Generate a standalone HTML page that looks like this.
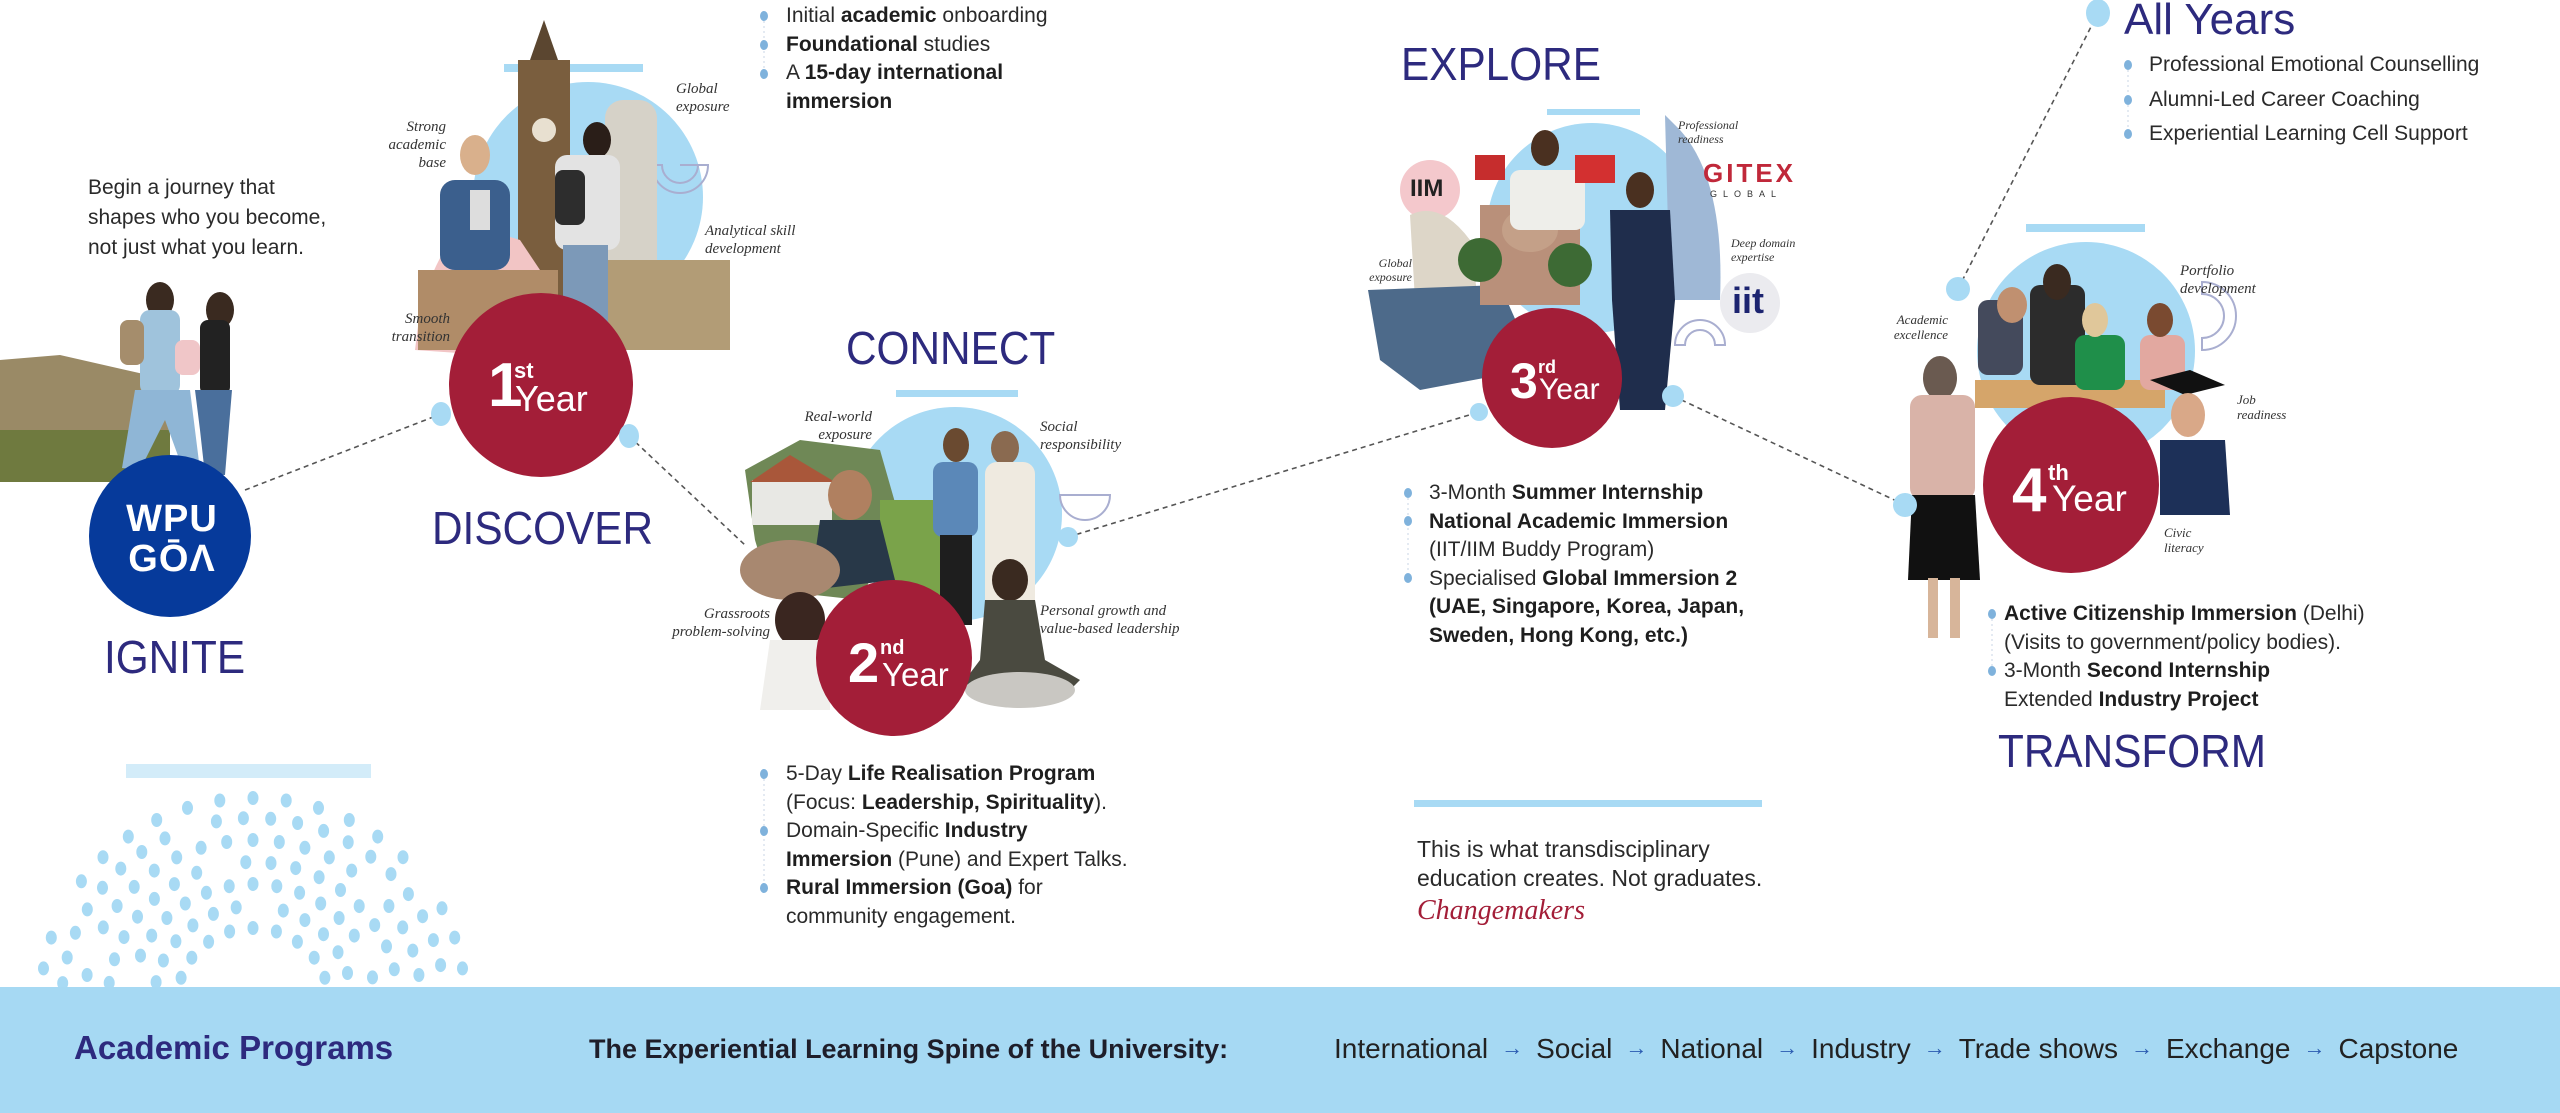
<!DOCTYPE html>
<html><head><meta charset="utf-8">
<style>
*{margin:0;padding:0;box-sizing:border-box}
body{width:2560px;height:1113px;position:relative;overflow:hidden;background:#fff;font-family:"Liberation Sans",sans-serif;color:#222}
.a{position:absolute}
.h{position:absolute;color:#2d2a7e;font-size:46px;letter-spacing:0px;white-space:nowrap;line-height:1;transform:scaleX(0.92);transform-origin:left top}
.t{position:absolute;font-size:21px;line-height:28.5px;color:#2a2a2a;white-space:nowrap}
.t b{font-weight:700;color:#1e1e1e}
.lab{position:absolute;font-family:"Liberation Serif",serif;font-style:italic;font-size:15px;line-height:18px;color:#333;white-space:nowrap}
.r{text-align:right}
.dot{position:absolute;width:8px;height:10px;border-radius:50%;background:#7fb2dc}
.yr{position:absolute;color:#fff;font-family:"Liberation Sans",sans-serif;white-space:nowrap}
.ar{color:#2a5ab0;font-size:22px;display:inline-block;vertical-align:middle;position:relative;top:-3px;margin:0 13px}
</style></head><body>

<svg class="a" style="left:0;top:0" width="2560" height="1113">
 <circle cx="588" cy="197" r="115" fill="#a8daf4"/>
 <circle cx="955" cy="514" r="107" fill="#a8daf4"/>
 <circle cx="1592" cy="228" r="105" fill="#a8daf4"/>
 <circle cx="2086" cy="351" r="109" fill="#a8daf4"/>
 <rect x="504" y="64" width="139" height="8" fill="#a8daf4"/>
 <rect x="896" y="390" width="122" height="7" fill="#a8daf4"/>
 <rect x="1547" y="109" width="93" height="6" fill="#a8daf4"/>
 <rect x="2026" y="224" width="119" height="8" fill="#a8daf4"/>
 <rect x="126" y="764" width="245" height="14" fill="#d3ecf9"/>
 <rect x="1414" y="800" width="348" height="7" fill="#a8daf4"/>
 <g stroke="#555" stroke-width="1.6" stroke-dasharray="5 4" fill="none">
  <line x1="245" y1="490" x2="441" y2="414"/>
  <line x1="629" y1="436" x2="745" y2="545"/>
  <line x1="1068" y1="537" x2="1479" y2="412"/>
  <line x1="1673" y1="396" x2="1905" y2="505"/>
  <line x1="1958" y1="289" x2="2098" y2="13"/>
 </g>
 <g stroke="#a9aed0" stroke-width="2" fill="none">
  <path d="M680 165 h28 a28 28 0 0 1 -56 0 h10 a18 18 0 0 0 36 0"/>
  <path d="M1060 495 h50 a25 25 0 0 1 -50 0 z"/>
  <path d="M1675 345 a25 25 0 0 1 50 0 h-10 a15 15 0 0 0 -30 0 z"/>
  <path d="M2202 282 a33 33 0 0 1 0 68 v-12 a22 22 0 0 0 0 -44 z"/>
 </g>
 <path d="M0 360 L60 355 L170 380 L170 480 L0 480 Z" fill="#9a8a66"/>
 <path d="M0 430 L170 430 L170 482 L0 482 Z" fill="#6f7a3f"/>
 <ellipse cx="160" cy="300" rx="14" ry="18" fill="#3a2a20"/>
 <rect x="140" y="310" width="40" height="85" rx="10" fill="#9fc3dc"/>
 <rect x="120" y="320" width="24" height="45" rx="8" fill="#a58d6c"/>
 <path d="M135 390 L190 390 L200 470 L185 475 L165 420 L140 470 L122 468 Z" fill="#8fb6d6"/>
 <ellipse cx="220" cy="310" rx="14" ry="18" fill="#3a2a20"/>
 <rect x="200" y="320" width="30" height="75" rx="8" fill="#222"/>
 <rect x="175" y="340" width="25" height="35" rx="8" fill="#f0c6c8"/>
 <path d="M195 390 L232 390 L225 475 L205 475 L200 430 Z" fill="#4a6f9c"/>
 <rect x="518" y="60" width="52" height="270" fill="#7a5e3e"/>
 <polygon points="530,60 544,20 558,60" fill="#5b4630"/>
 <circle cx="544" cy="130" r="12" fill="#e8e0d0"/>
 <rect x="605" y="100" width="52" height="200" rx="18" fill="#d6d2c8"/>
 <path d="M420 310 Q440 240 470 225 L520 240 L560 300 L560 360 L415 350 Z" fill="#f2c5c5"/>
 <rect x="418" y="270" width="140" height="80" fill="#b08c68"/>
 <rect x="595" y="260" width="135" height="90" fill="#b29c76"/>
 <ellipse cx="475" cy="155" rx="15" ry="20" fill="#d9b08c"/>
 <rect x="440" y="180" width="70" height="90" rx="15" fill="#3b5f8d"/>
 <rect x="470" y="190" width="20" height="40" fill="#ddd"/>
 <ellipse cx="597" cy="140" rx="14" ry="18" fill="#2a1e18"/>
 <rect x="555" y="155" width="65" height="95" rx="12" fill="#e3e3e3"/>
 <rect x="555" y="170" width="30" height="55" rx="8" fill="#2d2d2d"/>
 <rect x="563" y="245" width="45" height="110" fill="#7c99b8"/>
 <path d="M745 470 L800 440 L880 450 L900 520 L860 600 L770 590 L755 540 Z" fill="#6f8856"/>
 <rect x="752" y="480" width="80" height="45" fill="#e8e8e4"/>
 <polygon points="750,482 790,455 835,482" fill="#a9573a"/>
 <rect x="880" y="500" width="60" height="100" fill="#7aa34a"/>
 <ellipse cx="850" cy="495" rx="22" ry="25" fill="#b08060"/>
 <path d="M820 520 L880 520 L895 580 L810 590 Z" fill="#283848"/>
 <ellipse cx="790" cy="570" rx="50" ry="30" fill="#a88870"/>
 <ellipse cx="800" cy="620" rx="25" ry="28" fill="#3a2620"/>
 <path d="M770 640 L830 640 L830 710 L760 710 Z" fill="#f0efec"/>
 <ellipse cx="956" cy="445" rx="13" ry="17" fill="#6a4a30"/>
 <rect x="933" y="462" width="45" height="75" rx="10" fill="#5b88b8"/>
 <rect x="940" y="535" width="32" height="90" fill="#1e1e1e"/>
 <ellipse cx="1005" cy="448" rx="14" ry="17" fill="#8a6a50"/>
 <rect x="985" y="462" width="50" height="160" rx="12" fill="#efeae0"/>
 <ellipse cx="1010" cy="580" rx="18" ry="21" fill="#3a2a20"/>
 <path d="M985 600 L1035 600 L1045 660 L1080 680 L1060 700 L975 700 L965 680 L980 660 Z" fill="#4a4a40"/>
 <ellipse cx="1020" cy="690" rx="55" ry="18" fill="#c9c7c2"/>
 <circle cx="1430" cy="190" r="30" fill="#f4c8cc"/>
 <circle cx="1750" cy="303" r="30" fill="#ebebef"/>
 <path d="M1410 215 Q1440 200 1470 240 L1478 300 L1415 300 Z" fill="#ddd6c8"/>
 <path d="M1368 290 L1500 285 L1520 330 L1500 375 L1420 390 L1380 360 Z" fill="#4d6a8a"/>
 <rect x="1480" y="205" width="100" height="100" fill="#b9907a"/>
 <ellipse cx="1530" cy="230" rx="28" ry="22" fill="#c4a088"/>
 <circle cx="1480" cy="260" r="22" fill="#3d6a34"/>
 <circle cx="1570" cy="265" r="22" fill="#3d6a34"/>
 <ellipse cx="1545" cy="148" rx="14" ry="18" fill="#4a3020"/>
 <rect x="1510" y="170" width="75" height="60" rx="10" fill="#eeeeea"/>
 <rect x="1475" y="155" width="30" height="25" fill="#c62d2d"/>
 <rect x="1575" y="155" width="40" height="28" fill="#d33030"/>
 <path d="M1665 115 L1680 130 Q1725 180 1720 300 L1670 300 Z" fill="#9fb8d6"/>
 <ellipse cx="1640" cy="190" rx="14" ry="18" fill="#4a3020"/>
 <path d="M1610 210 L1670 210 L1675 300 L1665 410 L1620 410 L1612 300 Z" fill="#1f2d4c"/>
 <rect x="1975" y="380" width="190" height="28" fill="#d5a56a"/>
 <rect x="1978" y="300" width="45" height="75" rx="10" fill="#444a5c"/>
 <ellipse cx="2012" cy="305" rx="15" ry="18" fill="#c09070"/>
 <rect x="2030" y="285" width="55" height="100" rx="10" fill="#2c2c2c"/>
 <ellipse cx="2057" cy="282" rx="14" ry="18" fill="#3a2a20"/>
 <rect x="2075" y="335" width="50" height="55" rx="10" fill="#1f8f4a"/>
 <ellipse cx="2095" cy="320" rx="13" ry="17" fill="#e0c79a"/>
 <rect x="2140" y="335" width="45" height="55" rx="10" fill="#e2a8a0"/>
 <ellipse cx="2160" cy="320" rx="13" ry="17" fill="#7a4a30"/>
 <ellipse cx="1940" cy="378" rx="17" ry="22" fill="#6a5a50"/>
 <rect x="1910" y="395" width="65" height="105" rx="12" fill="#d9b3a8"/>
 <path d="M1912 495 L1975 495 L1980 580 L1908 580 Z" fill="#111"/>
 <rect x="1928" y="578" width="10" height="60" fill="#d7b59a"/>
 <rect x="1950" y="578" width="10" height="60" fill="#d7b59a"/>
 <polygon points="2150,380 2190,370 2225,385 2185,395" fill="#111"/>
 <ellipse cx="2188" cy="415" rx="17" ry="22" fill="#d9a888"/>
 <path d="M2160 440 L2225 440 L2230 515 L2160 515 Z" fill="#1d3058"/>
 <circle cx="541" cy="385" r="92" fill="#a31e38"/>
 <circle cx="894" cy="658" r="78" fill="#a31e38"/>
 <circle cx="1552" cy="378" r="70" fill="#a31e38"/>
 <circle cx="2071" cy="485" r="88" fill="#a31e38"/>
 <circle cx="170" cy="536" r="81" fill="#063a9b"/>
 <g fill="#a8daf4">
  <ellipse cx="441" cy="414" rx="10" ry="12"/>
  <ellipse cx="629" cy="436" rx="10" ry="12"/>
  <circle cx="1068" cy="537" r="10"/>
  <circle cx="1479" cy="412" r="9"/>
  <circle cx="1673" cy="396" r="11"/>
  <circle cx="1905" cy="505" r="12"/>
  <circle cx="1958" cy="289" r="12"/>
  <ellipse cx="2098" cy="13" rx="12" ry="14"/>
 </g>
 <g stroke="#c9d6e4" stroke-width="1" stroke-dasharray="2 3">
  <line x1="764" y1="16" x2="764" y2="73"/>
  <line x1="764" y1="774" x2="764" y2="888"/>
  <line x1="1408" y1="493" x2="1408" y2="580"/>
  <line x1="2128" y1="65" x2="2128" y2="134"/>
  <line x1="1992" y1="614" x2="1992" y2="671"/>
 </g>
 <g id="arc" fill="#a8daf4"></g>
 <rect x="0" y="987" width="2560" height="126" fill="#a6d9f3"/>
</svg>

<script>
(function(){
 var g=document.getElementById('arc'),s='';
 var cx=253,cy=1000;
 var rings=[[72,10],[94,13],[116,16],[138,18],[160,20],[182,22],[202,20]];
 for(var i=0;i<rings.length;i++){
  var R=rings[i][0],n=rings[i][1];
  for(var k=0;k<=n;k++){
   var a=Math.PI-(Math.PI*k/n)+((i%2)?0.05:0);
   if((k*7+i*3)%13==0) continue;
   var x=cx+R*Math.cos(a)*1.05,y=cy-R*Math.sin(a);
   if(y>985) continue;
   s+='<ellipse cx="'+x.toFixed(1)+'" cy="'+y.toFixed(1)+'" rx="5.5" ry="7"/>';
  }
 }
 g.innerHTML=s;
})();
</script>

<div class="t" style="left:88px;top:173px;line-height:30px;font-size:21px">Begin a journey that<br>shapes who you become,<br>not just what you learn.</div>
<div class="a" style="left:122px;top:499px;color:#fff;font-weight:700;font-size:38px;line-height:40px;letter-spacing:1px;text-align:center;width:100px">WPU<br>GŌΛ</div>
<div class="h" style="left:104px;top:634px">IGNITE</div>

<div class="t" style="left:786px;top:2px">Initial <b>academic</b> onboarding<br><b>Foundational</b> studies<br>A <b>15-day international</b><br><b>immersion</b></div>
<span class="dot" style="left:760px;top:11px"></span><span class="dot" style="left:760px;top:40px"></span><span class="dot" style="left:760px;top:69px"></span>
<div class="lab" style="left:676px;top:80px">Global<br>exposure</div>
<div class="lab r" style="left:380px;top:118px;width:66px">Strong<br>academic<br>base</div>
<div class="lab" style="left:705px;top:222px">Analytical skill<br>development</div>
<div class="lab r" style="left:380px;top:310px;width:70px">Smooth<br>transition</div>
<div class="yr" style="left:488px;top:350px;font-size:62px;font-weight:700">1</div>
<div class="yr" style="left:514px;top:358px;font-size:22px;font-weight:700">st</div>
<div class="yr" style="left:515px;top:378px;font-size:36px">Year</div>
<div class="h" style="left:432px;top:505px">DISCOVER</div>

<div class="h" style="left:846px;top:325px">CONNECT</div>
<div class="lab r" style="left:760px;top:408px;width:112px">Real-world<br>exposure</div>
<div class="lab" style="left:1040px;top:418px">Social<br>responsibility</div>
<div class="lab r" style="left:660px;top:605px;width:110px">Grassroots<br>problem-solving</div>
<div class="lab" style="left:1040px;top:602px">Personal growth and<br>value-based leadership</div>
<div class="yr" style="left:848px;top:630px;font-size:56px;font-weight:700">2</div>
<div class="yr" style="left:880px;top:637px;font-size:20px;font-weight:700">nd</div>
<div class="yr" style="left:882px;top:656px;font-size:33px">Year</div>
<div class="t" style="left:786px;top:760px">5-Day <b>Life Realisation Program</b><br>(Focus: <b>Leadership, Spirituality</b>).<br>Domain-Specific <b>Industry</b><br><b>Immersion</b> (Pune) and Expert Talks.<br><b>Rural Immersion (Goa)</b> for<br>community engagement.</div>
<span class="dot" style="left:760px;top:769px"></span><span class="dot" style="left:760px;top:826px"></span><span class="dot" style="left:760px;top:883px"></span>

<div class="h" style="left:1401px;top:41px">EXPLORE</div>
<div class="a" style="left:1410px;top:175px;font-size:24px;font-weight:700;color:#222">IIM</div>
<div class="a" style="left:1703px;top:158px;font-size:26px;font-weight:700;color:#c0283a;letter-spacing:3px">GITEX</div>
<div class="a" style="left:1710px;top:189px;font-size:9px;color:#333;letter-spacing:6px">GLOBAL</div>
<div class="a" style="left:1732px;top:280px;font-size:36px;font-weight:700;color:#1c2470">iit</div>
<div class="lab" style="left:1678px;top:118px;font-size:12px;line-height:14px">Professional<br>readiness</div>
<div class="lab" style="left:1731px;top:236px;font-size:12px;line-height:14px">Deep domain<br>expertise</div>
<div class="lab r" style="left:1360px;top:256px;width:52px;font-size:12px;line-height:14px">Global<br>exposure</div>
<div class="yr" style="left:1510px;top:352px;font-size:50px;font-weight:700">3</div>
<div class="yr" style="left:1538px;top:357px;font-size:18px;font-weight:700">rd</div>
<div class="yr" style="left:1539px;top:373px;font-size:30px">Year</div>
<div class="t" style="left:1429px;top:479px">3-Month <b>Summer Internship</b><br><b>National Academic Immersion</b><br>(IIT/IIM Buddy Program)<br>Specialised <b>Global Immersion 2</b><br><b>(UAE, Singapore, Korea, Japan,</b><br><b>Sweden, Hong Kong, etc.)</b></div>
<span class="dot" style="left:1404px;top:488px"></span><span class="dot" style="left:1404px;top:516px"></span><span class="dot" style="left:1404px;top:573px"></span>

<div class="t" style="left:1417px;top:835px;font-size:23px;line-height:29px">This is what transdisciplinary<br>education creates. Not graduates.</div>
<div class="a" style="left:1417px;top:895px;font-family:'Liberation Serif',serif;font-style:italic;font-size:28px;color:#a31e38">Changemakers</div>

<div class="h" style="left:2124px;top:-2px;font-size:44px;transform:none">All Years</div>
<div class="t" style="left:2149px;top:48px;line-height:34.5px">Professional Emotional Counselling<br>Alumni-Led Career Coaching<br>Experiential Learning Cell Support</div>
<span class="dot" style="left:2124px;top:60px"></span><span class="dot" style="left:2124px;top:95px"></span><span class="dot" style="left:2124px;top:129px"></span>

<div class="lab" style="left:2180px;top:262px">Portfolio<br>development</div>
<div class="lab r" style="left:1890px;top:312px;width:58px;font-size:13px;line-height:15px">Academic<br>excellence</div>
<div class="lab" style="left:2237px;top:392px;font-size:13px;line-height:15px">Job<br>readiness</div>
<div class="lab" style="left:2164px;top:525px;font-size:13px;line-height:15px">Civic<br>literacy</div>
<div class="yr" style="left:2012px;top:455px;font-size:62px;font-weight:700">4</div>
<div class="yr" style="left:2048px;top:460px;font-size:22px;font-weight:700">th</div>
<div class="yr" style="left:2052px;top:478px;font-size:37px">Year</div>
<div class="t" style="left:2004px;top:600px"><b>Active Citizenship Immersion</b> (Delhi)<br>(Visits to government/policy bodies).<br>3-Month <b>Second Internship</b><br>Extended <b>Industry Project</b></div>
<span class="dot" style="left:1988px;top:609px"></span><span class="dot" style="left:1988px;top:666px"></span>
<div class="h" style="left:1998px;top:728px">TRANSFORM</div>

<div class="a" style="left:74px;top:1029px;font-size:33px;font-weight:700;color:#2d2a7e">Academic Programs</div>
<div class="a" style="left:589px;top:1034px;font-size:27px;font-weight:700;color:#1e1e2a">The Experiential Learning Spine of the University:</div>
<div class="a" style="left:1334px;top:1033px;font-size:28px;color:#222;white-space:nowrap">International<span class="ar">→</span>Social<span class="ar">→</span>National<span class="ar">→</span>Industry<span class="ar">→</span>Trade shows<span class="ar">→</span>Exchange<span class="ar">→</span>Capstone</div>
</body></html>
